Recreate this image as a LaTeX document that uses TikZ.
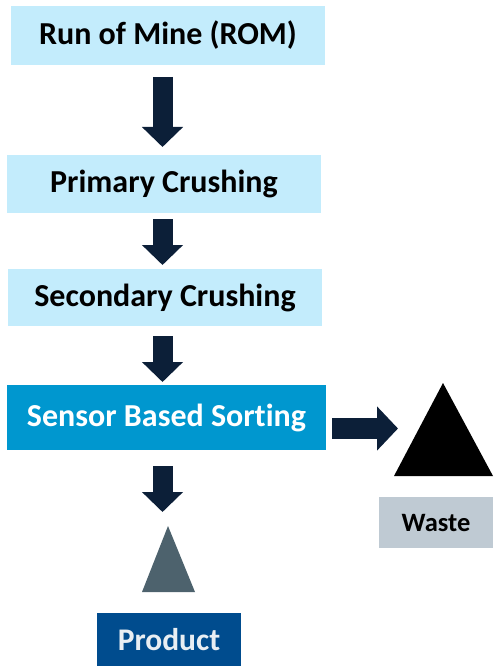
\documentclass[tikz,border=0pt]{standalone}
\usepackage{fontspec}
\setmainfont{Carlito}[Ligatures=NoCommon]
\usetikzlibrary{arrows.meta}
\definecolor{lightbox}{HTML}{C3ECFC}
\definecolor{sortblue}{HTML}{0097CF}
\definecolor{navy}{HTML}{0C1F38}
\definecolor{wastegrey}{HTML}{BFCAD3}
\definecolor{trigrey}{HTML}{4D626D}
\definecolor{prodblue}{HTML}{004C8E}
\definecolor{prodtext}{HTML}{E8EEF3}
\begin{document}
\begin{tikzpicture}[x=1pt,y=-1pt,
  box/.style={inner sep=0pt, outer sep=0pt, align=center, font=\fontsize{32}{36}\selectfont\bfseries},
  stepbox/.style={box, fill=lightbox, text=black},
  bigarrow/.style={draw=navy, line width=20pt, -{Triangle[width=40pt,length=20pt]}, color=navy}]
\useasboundingbox (0,0) rectangle (493,666);
\node[stepbox, minimum width=314pt, minimum height=59pt] (rom) at (168,35.5) {Run of Mine (ROM)};
\node[stepbox, minimum width=314pt, minimum height=58pt] (prim) at (164,184) {Primary Crushing};
\node[stepbox, minimum width=314pt, minimum height=57pt] (sec) at (165,297.5) {Secondary Crushing};
\node[box, fill=sortblue, text=white, minimum width=319pt, minimum height=65pt] (sort) at (166.5,417.5) {Sensor Based Sorting};
\node[box, fill=wastegrey, text=black, minimum width=114pt, minimum height=51pt, font=\fontsize{26.5}{30}\selectfont\bfseries] (waste) at (436,522.5) {Waste};
\node[box, fill=prodblue, text=prodtext, minimum width=144pt, minimum height=53pt, font=\fontsize{31.5}{36}\selectfont\bfseries] (prod) at (169,639.5) {Product};
% triangles
\coordinate (wtri) at (443,383);
\fill[black] (wtri) -- (394,476) -- (493,476) -- cycle;
\coordinate (ptri) at (168,526);
\fill[trigrey] (ptri) -- (142,592) -- (195,592) -- cycle;
\coordinate (wtip) at (398,428.5);
% arrows
\draw[bigarrow, shorten <=12pt, shorten >=8pt] ([xshift=-5.5pt]rom.south) -- ([xshift=-1.5pt]prim.north);
\draw[bigarrow, shorten <=6pt, shorten >=4pt] ([xshift=-1.5pt]prim.south) -- ([xshift=-2.5pt]sec.north);
\draw[bigarrow, shorten <=10pt, shorten >=3pt] ([xshift=-2.5pt]sec.south) -- ([xshift=-4pt]sort.north);
\draw[bigarrow, shorten <=16pt, shorten >=14pt] ([xshift=-4pt]sort.south) -- ([xshift=-5.5pt]ptri);
\draw[bigarrow, line width=21pt, -{Triangle[width=43pt,length=21pt]}, shorten <=6pt] ([yshift=-11pt]sort.east) -- (wtip);
\end{tikzpicture}
\end{document}
